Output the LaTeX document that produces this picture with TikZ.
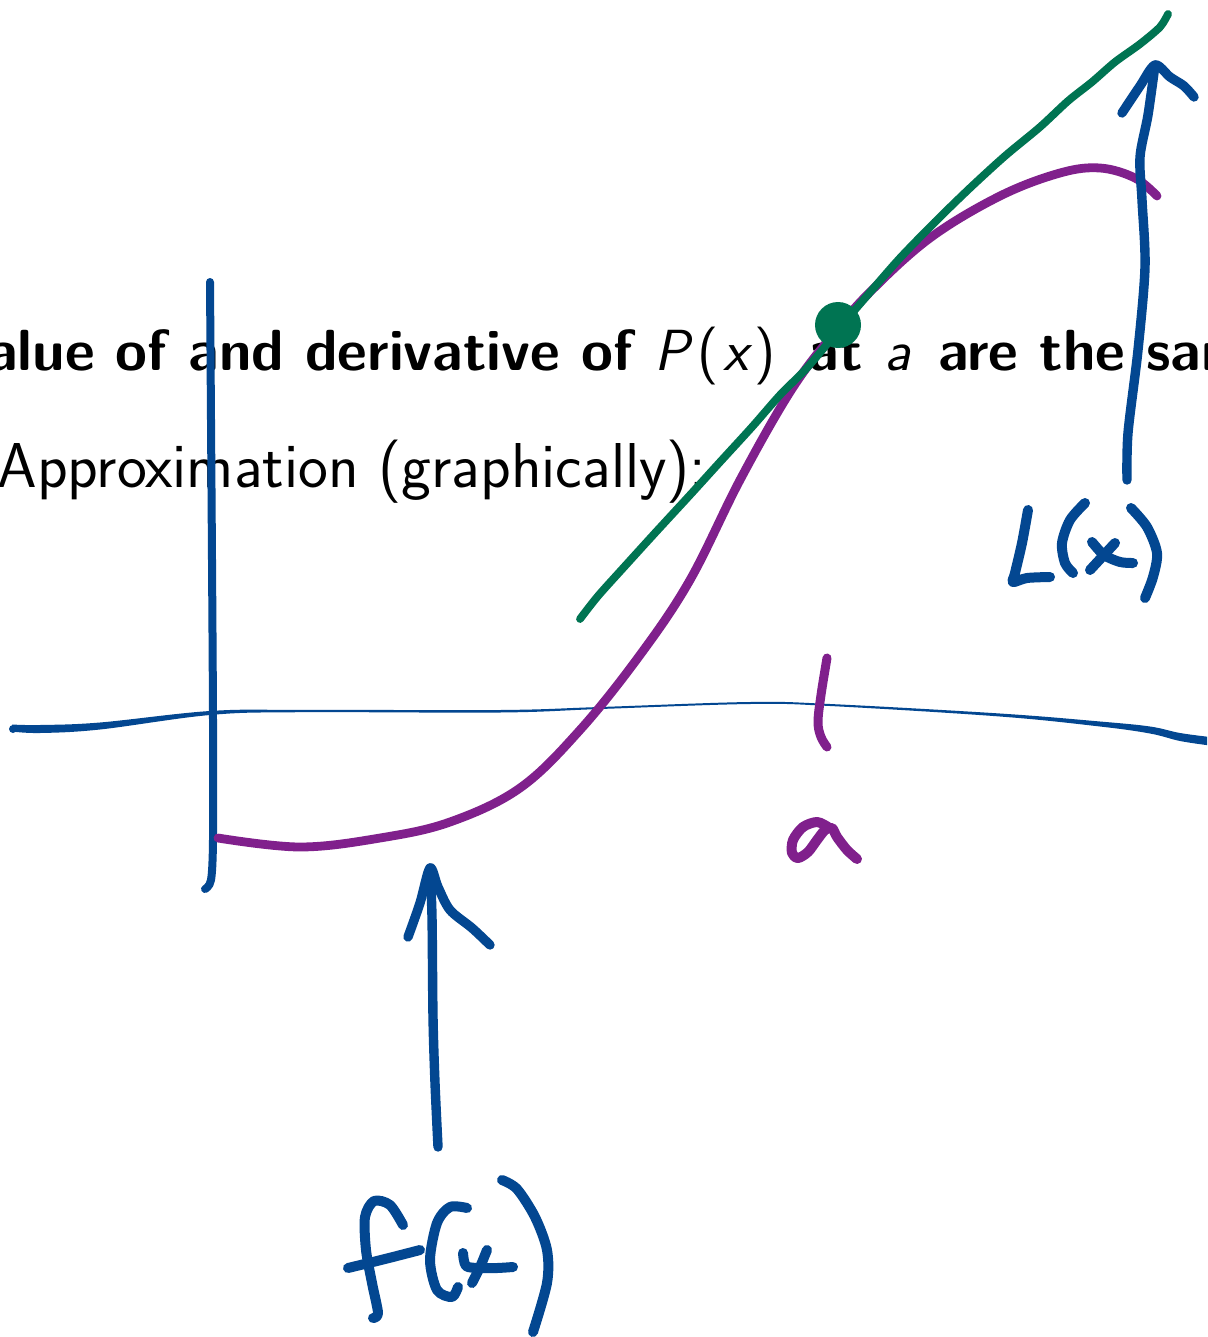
\documentclass[tikz,border=0pt]{standalone}
\usepackage{fontspec}
\definecolor{inkblue}{RGB}{3,71,145}
\definecolor{inkpurple}{RGB}{128,32,140}
\definecolor{inkgreen}{RGB}{0,116,82}
\tikzset{
  ink/.style={line cap=round, line join=round},
  penblue/.style={ink, draw=inkblue, line width=5pt},
  arrowpen/.style={ink, draw=inkblue, line width=4.7pt},
  axispen/.style={ink, draw=inkblue, line width=4pt},
  curvepen/.style={ink, draw=inkpurple, line width=4.4pt},
  letterpurple/.style={ink, draw=inkpurple, line width=5pt},
  tangentpen/.style={ink, draw=inkgreen, line width=3.9pt},
  boldtext/.style={inner sep=0pt, font=\sffamily\fontsize{29}{35}\selectfont},
  plaintext/.style={inner sep=0pt, font=\sffamily\fontsize{31.7}{38}\selectfont}
}
\begin{document}
\begin{tikzpicture}[x=0.5pt, y=-0.5pt]
\useasboundingbox (0,0) rectangle (1207,1337);
\clip (0,0) rectangle (1207,1337);
\fill[white] (0,0) rectangle (1207,1337);

% slide text
\node[boldtext, anchor=base west] (line1) at (-54,370)
  {\bfseries Value of and derivative of \mdseries\itshape P\kern4pt\upshape(\kern2.5pt\itshape x\kern3pt\upshape)\bfseries\kern6pt\ at \mdseries\itshape a\upshape\bfseries\kern3.5pt\ are the same};
\node[plaintext, anchor=base west] (line2) at (-3,487) {Approximation (graphically):};

% horizontal axis (tapered stroke)
\fill[inkblue] plot[smooth, tension=0.6] coordinates {(12,724.5)(40,725)(100,722.5)(210,711)(300,709.8)(500,710)(600,707)(750,702)(830,704)(1000,713.5)(1100,721.5)(1150,726.5)(1180,733)(1210,737)}
  -- plot[smooth, tension=0.6] coordinates {(1210,745.5)(1180,741)(1150,733.5)(1100,726.5)(1000,716.5)(830,706)(750,704)(600,709)(500,712.5)(300,712.2)(210,715)(100,729.5)(40,733)(12,731.5)} -- cycle;
\fill[inkblue] (13,729) circle [radius=4];

% vertical axis
\draw[axispen] plot[smooth, tension=0.5] coordinates {(210,282)(211,420)(212,560)(213,720)(213,840)(211,880)(205,889)};

% purple curve f(x)
\draw[curvepen] plot[smooth, tension=0.6] coordinates {(218,838)(300,847)(380,838)(450,822)(520,788)(580,730)(640,655)(690,580)(740,480)(790,392)(830,338)(870,292)(930,238)(1000,196)(1060,173)(1100,168)(1135,178)(1157,196)};

% tick at a
\draw[letterpurple, line width=4.5pt] plot[smooth, tension=0.6] coordinates {(827,658)(821,695)(818,722)(821,737)(827,747)};
% letter a
\draw[letterpurple] plot[smooth, tension=0.5] coordinates {(828,827)(817,822)(803,827)(793,840)(792,853)(798,858)(808,852)(817,840)(825,830)(832,828)(837,837)(847,850)(857,859)};

% green tangent line
\draw[tangentpen] plot[smooth, tension=0.5] coordinates {(580,619)(598,596)(625,566)(655,533)(690,495)(720,462)(752,427)(780,395)(805,370)(828,343)(848,318)(872,290)(900,258)(935,222)(970,188)(1005,156)(1040,127)(1068,101)(1092,82)(1115,62)(1140,44)(1160,27)(1168,14)};
% point of tangency
\fill[inkgreen] (838,325) ellipse [x radius=23, y radius=23];

% arrow to L(x)
\draw[arrowpen] plot[smooth, tension=0.5] coordinates {(1127,480)(1128,433)(1138,350)(1145,267)(1142,200)(1140,157)(1148,115)(1155,65)};
\draw[arrowpen] plot[smooth, tension=0.5] coordinates {(1122,113)(1140,86)(1155,65)(1170,77)(1184,86)(1194,97)};

% L(x)
\draw[penblue] plot[smooth, tension=0.5] coordinates {(1028,510)(1022,543)(1015,573)(1013,582)(1027,578)(1050,577)};
\draw[penblue] plot[smooth, tension=0.5] coordinates {(1085,503)(1070,520)(1062,543)(1065,563)(1073,573)};
\draw[penblue] plot[smooth, tension=0.5] coordinates {(1092,542)(1104,555)(1120,562)(1133,563)};
\draw[penblue] (1115,543) -- (1090,570);
\draw[penblue] plot[smooth, tension=0.5] coordinates {(1131,508)(1147,527)(1157,553)(1153,577)(1145,598)};

% arrow to f(x)
\draw[arrowpen] plot[smooth, tension=0.5] coordinates {(438,1147)(435,1083)(433,1017)(432,917)(430,868)};
\draw[arrowpen] plot[smooth, tension=0.5] coordinates {(408,937)(420,903)(430,868)(438,887)(450,910)(472,928)(490,945)};

% f(x)
\draw[penblue] plot[smooth, tension=0.5] coordinates {(403,1225)(390,1205)(374,1201)(365,1217)(366,1250)(372,1283)(378,1313)(373,1318)};
\draw[penblue] plot[smooth, tension=0.5] coordinates {(348,1268)(385,1259)(420,1250)};
\draw[penblue] plot[smooth, tension=0.5] coordinates {(467,1208)(450,1207)(437,1223)(430,1260)(437,1290)(452,1297)(458,1287)};
\draw[penblue] plot[smooth, tension=0.5] coordinates {(463,1253)(466,1266)(480,1268)(497,1268)(513,1267)};
\draw[penblue] plot[smooth, tension=0.5] coordinates {(487,1250)(480,1267)(472,1283)};
\draw[penblue] plot[smooth, tension=0.5] coordinates {(502,1180)(517,1189)(535,1217)(547,1250)(547,1283)(533,1332)};
\end{tikzpicture}
\end{document}
